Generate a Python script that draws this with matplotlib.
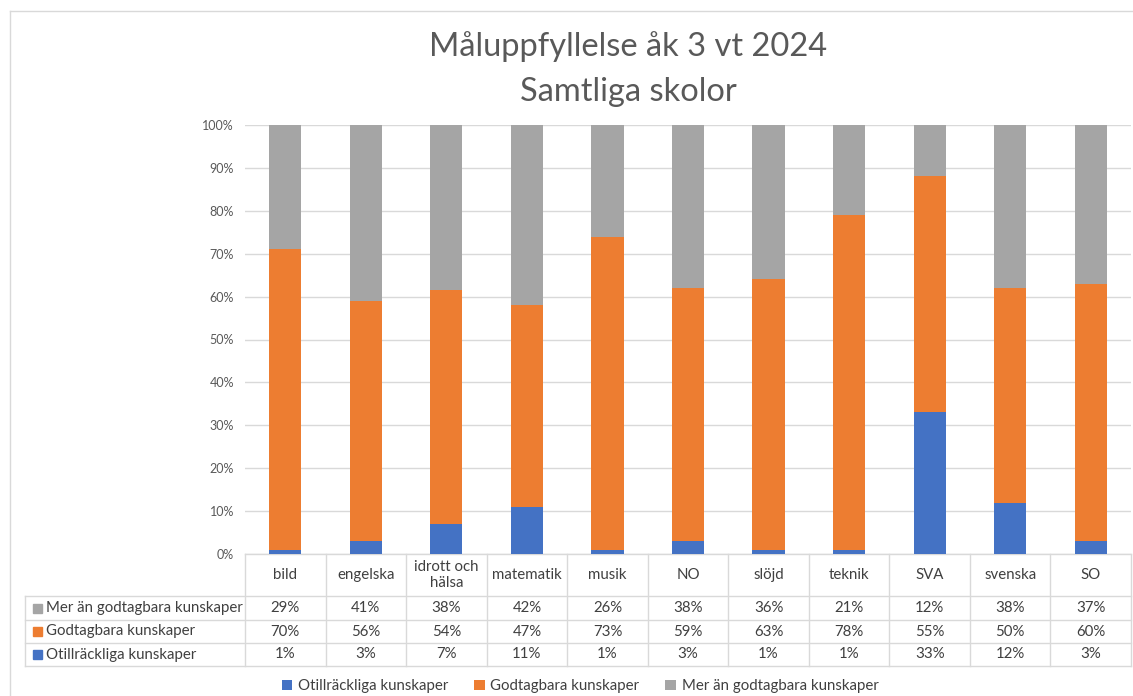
import matplotlib
matplotlib.use("Agg")
import matplotlib.pyplot as plt
import matplotlib.transforms as mtransforms
from matplotlib.patches import Rectangle
import numpy as np

plt.rcParams['font.family'] = ['Lato', 'DejaVu Sans']

categories = ["bild", "engelska", "idrott och\nhälsa", "matematik", "musik", "NO",
              "slöjd", "teknik", "SVA", "svenska", "SO"]
otillrackliga = [1, 3, 7, 11, 1, 3, 1, 1, 33, 12, 3]
godtagbara = [70, 56, 54, 47, 73, 59, 63, 78, 55, 50, 60]
mer_an = [29, 41, 38, 42, 26, 38, 36, 21, 12, 38, 37]
series_names = ["Otillräckliga kunskaper", "Godtagbara kunskaper", "Mer än godtagbara kunskaper"]
colors = ["#4472C4", "#ED7D31", "#A5A5A5"]
title_lines = ["Måluppfyllelse åk 3 vt 2024", "Samtliga skolor"]

W, H = 1133, 696
fig = plt.figure(figsize=(W / 100, H / 100), dpi=100)

# chart border
fig.add_artist(plt.Line2D([10 / W, 10 / W], [0, 1 - 11 / H], transform=fig.transFigure,
                          color="#D9D9D9", lw=1))
fig.add_artist(plt.Line2D([10 / W, 1], [1 - 11 / H, 1 - 11 / H], transform=fig.transFigure,
                          color="#D9D9D9", lw=1))

left_px, right_px, top_px, bot_px = 245, 1131, 125, 554
ax = fig.add_axes([left_px / W, 1 - bot_px / H, (right_px - left_px) / W, (bot_px - top_px) / H])

data = np.array([otillrackliga, godtagbara, mer_an], dtype=float)
pct = data / data.sum(axis=0) * 100
x = np.arange(len(categories))
bottom = np.zeros(len(categories))
for vals, col, name in zip(pct, colors, series_names):
    ax.bar(x, vals, 0.4, bottom=bottom, color=col, label=name, zorder=3)
    bottom += vals

ax.set_xlim(-0.5, len(categories) - 0.5)
ax.set_ylim(0, 100)
ax.set_yticks(np.arange(0, 101, 10))
ax.set_yticklabels([f"{v}%" for v in range(0, 101, 10)])
ax.tick_params(axis='y', length=0, labelsize=9, labelcolor="#595959", pad=8)
ax.set_xticks([])
ax.grid(axis='y', color="#D9D9D9", lw=1, zorder=0)
for s in ax.spines.values():
    s.set_visible(False)

# data table
axh = bot_px - top_px
axw = right_px - left_px
def ay(py):
    return (bot_px - py) / axh
def axf(px):
    return (px - left_px) / axw

trans = ax.transAxes
bl = mtransforms.blended_transform_factory(ax.transData, ax.transAxes)
lc = "#D9D9D9"
row_y = [554, 596, 620, 643, 666]
label_left = 25
ax.plot([0, 1], [ay(554), ay(554)], transform=trans, color=lc, lw=1, clip_on=False)
for py in row_y[1:]:
    ax.plot([axf(label_left), 1], [ay(py), ay(py)], transform=trans, color=lc, lw=1, clip_on=False)
for i in range(len(categories) + 1):
    xb = i - 0.5
    ax.plot([xb, xb], [ay(554), ay(666)], transform=bl, color=lc, lw=1, clip_on=False)
ax.plot([axf(label_left), axf(label_left)], [ay(596), ay(666)], transform=trans,
        color=lc, lw=1, clip_on=False)

tc = "#404040"
fs = 10.8
for i, cat in enumerate(categories):
    ax.text(i, ay((554 + 596) / 2), cat, transform=bl, ha='center', va='center',
            fontsize=fs, color=tc, linespacing=1.25, clip_on=False)

rows = [(mer_an, series_names[2], colors[2]),
        (godtagbara, series_names[1], colors[1]),
        (otillrackliga, series_names[0], colors[0])]
for r, (vals, name, col) in enumerate(rows):
    yc = ay((row_y[r + 1] + row_y[r + 2]) / 2)
    for i, v in enumerate(vals):
        ax.text(i, yc, f"{v}%", transform=bl, ha='center', va='center',
                fontsize=fs, color=tc, clip_on=False)
    ax.add_patch(Rectangle((axf(33), yc - 4.5 / axh), 9 / axw, 9 / axh, transform=trans,
                           color=col, clip_on=False))
    ax.text(axf(46), yc, name, transform=trans, ha='left', va='center',
            fontsize=fs, color=tc, clip_on=False)

# legend
fig.legend(loc='center', bbox_to_anchor=(580 / W, 1 - 686 / H), ncol=3, frameon=False,
           fontsize=fs, handlelength=0.7, handleheight=0.7, columnspacing=1.7,
           handletextpad=0.4, labelcolor=tc)

fig.text(628 / W, 1 - 47 / H, title_lines[0], ha='center', va='center', fontsize=23.5,
         color="#595959")
fig.text(628 / W, 1 - 92 / H, title_lines[1], ha='center', va='center', fontsize=23.5,
         color="#595959")

fig.savefig("out.png", dpi=100)
